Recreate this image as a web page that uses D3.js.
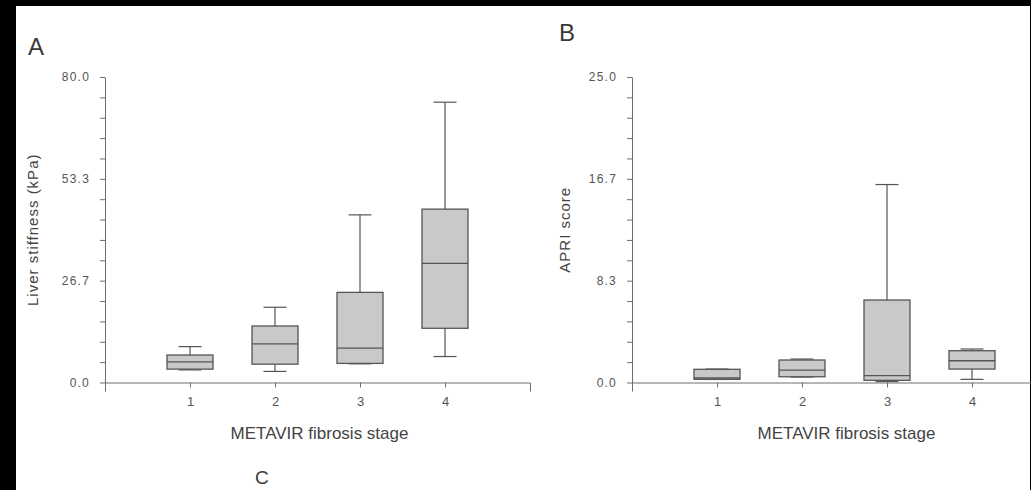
<!DOCTYPE html>
<html>
<head>
<meta charset="utf-8">
<script src="https://cdn.jsdelivr.net/npm/d3@7"></script>
<style>
  body { margin: 0; background: #000; }
  svg { display: block; }
  .axis text { font-family: "Liberation Sans", Arial, sans-serif; fill: #555; }
  .axis path, .axis line { stroke: #6e6e6e; }
  .axis-title { font-family: "Liberation Sans", Arial, sans-serif; fill: #444; }
  .panel-label { font-family: "Liberation Sans", Arial, sans-serif; fill: #3a3a3a; }
</style>
</head>
<body>
<svg id="fig" width="1031" height="490"></svg>
<script>
const width = 1031;
const height = 490;

// METAVIR stages on the x axis
const stages = [1, 2, 3, 4];

// panel A: liver stiffness (kPa) -> [low whisker, q1, median, q3, high whisker]
const stiffLow = [3.3, 2.9, 4.9, 6.8];
const stiffQ1 = [3.5, 4.8, 5.0, 14.2];
const stiffMedian = [5.4, 10.1, 9.0, 31.2];
const stiffQ3 = [7.2, 14.8, 23.6, 45.4];
const stiffHigh = [9.4, 19.7, 43.9, 73.4];

// panel B: APRI score
const apriLow = [0.25, 0.45, 0.08, 0.26];
const apriQ1 = [0.26, 0.47, 0.18, 1.1];
const apriMedian = [0.37, 1.02, 0.56, 1.78];
const apriQ3 = [1.08, 1.84, 6.75, 2.6];
const apriHigh = [1.1, 1.92, 16.2, 2.74];

const stiffTicks = ["0.0", "26.7", "53.3", "80.0"];
const apriTicks = ["0.0", "8.3", "16.7", "25.0"];

const svg = d3.select("svg#fig");

// white page on a black frame
svg.append("rect")
  .attr("x", 16).attr("y", 6)
  .attr("width", 1030 - 16).attr("height", height - 6)
  .attr("fill", "#fff");

function makeRows(low, q1, med, q3, high) {
  return stages.map((s, i) => ({stage: s, low: low[i], q1: q1[i], med: med[i], q3: q3[i], high: high[i]}));
}

drawPanel({
  left: 105, top: 77, bottom: 382.5, yMax: 80,
  tickLabels: stiffTicks,
  rows: makeRows(stiffLow, stiffQ1, stiffMedian, stiffQ3, stiffHigh),
  yTitle: "Liver stiffness (kPa)", yTitleX: 33,
  label: "A", labelX: 28, labelY: 55
});

drawPanel({
  left: 632, top: 77, bottom: 382.5, yMax: 25,
  tickLabels: apriTicks,
  rows: makeRows(apriLow, apriQ1, apriMedian, apriQ3, apriHigh),
  yTitle: "APRI score", yTitleX: 565,
  label: "B", labelX: 559, labelY: 41
});

// "C" label near the bottom edge
svg.append("text")
  .attr("class", "panel-label")
  .attr("x", 255).attr("y", 484)
  .style("font-size", "19px")
  .text("C");


function drawPanel(p) {
  const g = svg.append("g");

  const x = d3.scaleLinear().domain([0, 5]).range([p.left, p.left + 425]);
  const y = d3.scaleLinear().domain([0, p.yMax]).range([p.bottom, p.top]);

  // 15 intervals, labelled every fifth
  const yVals = d3.range(16).map(i => i * p.yMax / 15);
  const yAxis = d3.axisLeft(y)
    .tickValues(yVals)
    .tickSize(5)
    .tickSizeOuter(0)
    .tickPadding(10)
    .tickFormat((d, i) => i % 5 === 0 ? p.tickLabels[i / 5] : "");

  const yGroup = g.append("g").attr("class", "axis")
    .attr("transform", translate(p.left, 0))
    .call(yAxis);
  yGroup.selectAll("text")
    .style("font-size", "12px")
    .style("letter-spacing", "1.2px");

  const xAxis = d3.axisBottom(x)
    .tickValues(stages)
    .tickSize(5)
    .tickSizeOuter(9)
    .tickPadding(9)
    .tickFormat(d3.format("d"));

  const xGroup = g.append("g").attr("class", "axis")
    .attr("transform", translate(0, p.bottom))
    .call(xAxis);
  xGroup.selectAll("text").style("font-size", "13px");

  // boxes
  const boxW = 46;
  const boxes = g.selectAll("g.box")
    .data(p.rows)
    .enter()
    .append("g")
    .attr("class", "box");

  boxes.append("line")
    .attr("x1", d => x(d.stage)).attr("x2", d => x(d.stage))
    .attr("y1", d => y(d.high)).attr("y2", d => y(d.low))
    .attr("stroke", "#555").attr("stroke-width", 1.2);

  boxes.append("line")
    .attr("x1", d => x(d.stage) - boxW / 4).attr("x2", d => x(d.stage) + boxW / 4)
    .attr("y1", d => y(d.high)).attr("y2", d => y(d.high))
    .attr("stroke", "#555").attr("stroke-width", 1.2);

  boxes.append("line")
    .attr("x1", d => x(d.stage) - boxW / 4).attr("x2", d => x(d.stage) + boxW / 4)
    .attr("y1", d => y(d.low)).attr("y2", d => y(d.low))
    .attr("stroke", "#555").attr("stroke-width", 1.2);

  boxes.append("rect")
    .attr("x", d => x(d.stage) - boxW / 2)
    .attr("y", d => y(d.q3))
    .attr("width", boxW)
    .attr("height", d => y(d.q1) - y(d.q3))
    .attr("fill", "#c9c9c9")
    .attr("stroke", "#555").attr("stroke-width", 1.3);

  boxes.append("line")
    .attr("x1", d => x(d.stage) - boxW / 2).attr("x2", d => x(d.stage) + boxW / 2)
    .attr("y1", d => y(d.med)).attr("y2", d => y(d.med))
    .attr("stroke", "#555").attr("stroke-width", 1.3);

  // titles
  g.append("text")
    .attr("class", "axis-title")
    .attr("x", x(2.5) + 2).attr("y", p.bottom + 56)
    .attr("text-anchor", "middle")
    .style("font-size", "17px")
    .text("METAVIR fibrosis stage");

  g.append("text")
    .attr("class", "axis-title")
    .attr("transform", translate(p.yTitleX + 5, (p.top + p.bottom) / 2) + " rotate(-90)")
    .attr("text-anchor", "middle")
    .style("font-size", "15px")
    .style("letter-spacing", "1px")
    .text(p.yTitle);

  g.append("text")
    .attr("class", "panel-label")
    .attr("x", p.labelX).attr("y", p.labelY)
    .style("font-size", "24px")
    .text(p.label);
}

function translate(x, y) {
  return 'translate(' + String(x) + ',' + String(y) + ')';
}
</script>
</body>
</html>
